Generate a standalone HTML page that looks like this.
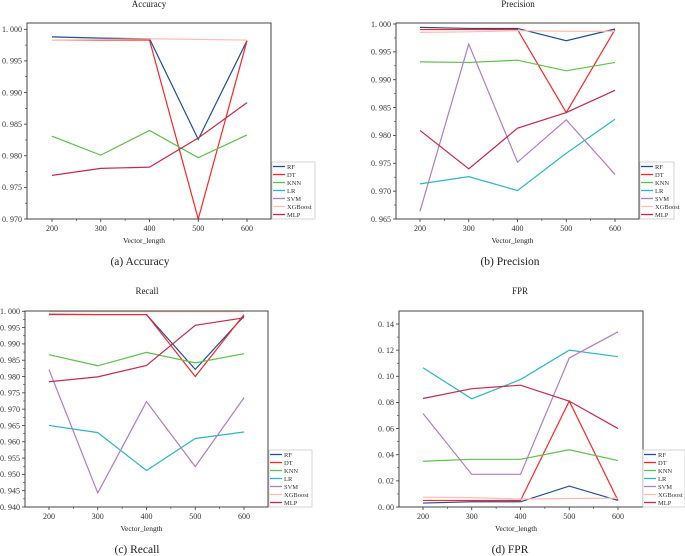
<!DOCTYPE html>
<html><head><meta charset="utf-8">
<style>
html,body{margin:0;padding:0;background:#fff;}
svg{display:block;font-family:"Liberation Serif",serif;}
</style></head>
<body>
<svg id="chart" width="685" height="556" viewBox="0 0 685 556" xmlns="http://www.w3.org/2000/svg"></svg>
<script>
const categories = [200, 300, 400, 500, 600];
const seriesNames = ["RF", "DT", "KNN", "LR", "SVM", "XGBoost", "MLP"];
const seriesColors = ["#1f4e9c", "#ff2424", "#5cc24a", "#2ab6c8", "#b07cc6", "#ffbcae", "#c8284a"];

const accRF = [0.9988, 0.9986, 0.9985, 0.9826, 0.9982];
const accDT = [0.9983, 0.9983, 0.9983, 0.9700, 0.9982];
const accKNN = [0.9831, 0.9801, 0.9840, 0.9797, 0.9833];
const accLR = [0.962, 0.961, 0.958, 0.963, 0.964];
const accSVM = [0.955, 0.952, 0.957, 0.950, 0.958];
const accXGB = [0.9983, 0.9984, 0.9985, 0.9984, 0.9983];
const accMLP = [0.9769, 0.9780, 0.9782, 0.9828, 0.9884];
const accTicks = [0.970, 0.975, 0.980, 0.985, 0.990, 0.995, 1.000];

const preRF = [0.9994, 0.9992, 0.9992, 0.9970, 0.9991];
const preDT = [0.9990, 0.9990, 0.9990, 0.9841, 0.9990];
const preKNN = [0.9932, 0.9931, 0.9935, 0.9916, 0.9931];
const preLR = [0.9713, 0.9726, 0.9701, 0.9768, 0.9829];
const preSVM = [0.9664, 0.9964, 0.9752, 0.9828, 0.9730];
const preXGB = [0.9985, 0.9986, 0.9988, 0.9987, 0.9987];
const preMLP = [0.9809, 0.9740, 0.9813, 0.9841, 0.9881];
const preTicks = [0.965, 0.970, 0.975, 0.980, 0.985, 0.990, 0.995, 1.000];

const recRF = [0.9991, 0.9990, 0.9990, 0.9822, 0.9985];
const recDT = [0.9990, 0.9990, 0.9990, 0.9800, 0.9990];
const recKNN = [0.9867, 0.9833, 0.9874, 0.9842, 0.9870];
const recLR = [0.9650, 0.9628, 0.9512, 0.9610, 0.9630];
const recSVM = [0.9821, 0.9443, 0.9723, 0.9524, 0.9735];
const recXGB = [0.9999, 0.9999, 0.9999, 0.9999, 0.9999];
const recMLP = [0.9784, 0.9799, 0.9834, 0.9957, 0.9980];
const recTicks = [0.940, 0.945, 0.950, 0.955, 0.960, 0.965, 0.970, 0.975, 0.980, 0.985, 0.990, 0.995, 1.000];

const fprRF = [0.003, 0.004, 0.004, 0.016, 0.005];
const fprDT = [0.005, 0.005, 0.005, 0.081, 0.005];
const fprKNN = [0.035, 0.0365, 0.0365, 0.0438, 0.0355];
const fprLR = [0.1065, 0.0828, 0.0975, 0.1200, 0.1150];
const fprSVM = [0.0715, 0.0250, 0.0250, 0.1140, 0.1340];
const fprXGB = [0.0075, 0.0072, 0.0060, 0.0065, 0.0068];
const fprMLP = [0.0830, 0.0905, 0.0932, 0.0810, 0.0600];
const fprTicks = [0.00, 0.02, 0.04, 0.06, 0.08, 0.10, 0.12, 0.14];

const NS = "http://www.w3.org/2000/svg";
const svg = document.getElementById("chart");
function mk(tag, attrs, parent) {
  const e = document.createElementNS(NS, tag);
  for (const k in attrs) e.setAttribute(k, attrs[k]);
  (parent || svg).appendChild(e);
  return e;
}

function panel(cfg) {
  const g = mk("g", {});
  
  
  const L = cfg.box[0], R = cfg.box[1], T = cfg.box[2], B = cfg.box[3];
  const xs = v => cfg.x0 + (v - 200) * (cfg.x1 - cfg.x0) / 400;
  const ys = v => cfg.yBotPx + (v - cfg.yMin) * (cfg.yTopPx - cfg.yBotPx) / (cfg.yMax - cfg.yMin);
  const cid = "clip-" + cfg.id;
  const cp = mk("clipPath", {id: cid}, g);
  mk("rect", {x: L, y: T, width: R - L, height: B - T}, cp);

  // ticks
  const ticks = cfg.ticks;
  for (let i = 0; i < ticks.length; i++) {
    const y = ys(ticks[i]);
    const tk = mk("line", {x1: L - 3, x2: L, y1: y, y2: y, stroke: "#333", "stroke-width": 0.8}, g);
    
    
    const t = mk("text", {x: L - 5, y: y + 2.8, "text-anchor": "end", "font-size": 8, fill: "#333"}, g);
    
    
    t.textContent = ticks[i].toFixed(cfg.dec).replace(".", ". ");
    if (i < ticks.length - 1) {
      const ym = ys((ticks[i] + ticks[i + 1]) / 2);
      mk("line", {x1: L - 2, x2: L, y1: ym, y2: ym, stroke: "#333", "stroke-width": 0.6}, g);
    }
  }
  categories.forEach((c, i) => {
    const x = xs(c);
    mk("line", {x1: x, x2: x, y1: B, y2: B + 3, stroke: "#333", "stroke-width": 0.8}, g);
    const t = mk("text", {x: x, y: B + 12, "text-anchor": "middle", "font-size": 8, fill: "#333"}, g);
    
    
    t.textContent = c;
    if (i < categories.length - 1) {
      const xm = xs(c + 50);
      mk("line", {x1: xm, x2: xm, y1: B, y2: B + 2, stroke: "#333", "stroke-width": 0.6}, g);
    }
  });

  const lg = mk("g", {"clip-path": "url(#" + cid + ")"}, g);
  cfg.series.forEach((vals, si) => {
    const pts = categories.map((c, i) => xs(c).toFixed(2) + "," + ys(vals[i]).toFixed(2)).join(" ");
    const pl = mk("polyline", {points: pts, fill: "none", stroke: seriesColors[si], "stroke-width": 1.2}, lg);
    
    
  });

  const frame = mk("rect", {x: L, y: T, width: R - L, height: B - T, fill: "none", stroke: "#444", "stroke-width": 1}, g);
  
  

  const tt = mk("text", {x: cfg.titleX, y: cfg.titleY, "text-anchor": "middle", "font-size": 9, fill: "#222"}, g);
  
  
  tt.textContent = cfg.title;
  const xl = mk("text", {x: (L + R) / 2 - 5, y: B + 24, "text-anchor": "middle", "font-size": 7.5, fill: "#222"}, g);
  
  
  xl.textContent = "Vector_length";
  const cap = mk("text", {x: cfg.capX, y: B + 46, "text-anchor": "middle", "font-size": 11.5, fill: "#222"}, g);
  
  
  cap.textContent = cfg.caption;

  // legend
  const lx = cfg.leg[0], lw = cfg.leg[1];
  const lgd = mk("g", {}, g);
  
  
  const lh = 57, ly = B - lh;
  mk("rect", {x: lx, y: ly, width: lw, height: lh, fill: "#fff", stroke: "#ccc", "stroke-width": 0.8}, lgd);
  seriesNames.forEach((n, i) => {
    const yy = ly + 4.5 + i * 8;
    const ent = mk("g", {}, lgd);
    
    
    mk("line", {x1: lx + 1, x2: lx + 13, y1: yy, y2: yy, stroke: seriesColors[i], "stroke-width": 1.3}, ent);
    const t = mk("text", {x: lx + 15, y: yy + 2.3, "font-size": 6.5, fill: "#333"}, ent);
    t.textContent = n;
  });
}

panel({id: "accuracy", box: [27, 271, 23, 219], x0: 52, x1: 247, yMin: 0.970, yMax: 1.000, yBotPx: 219, yTopPx: 29.3,
  ticks: accTicks, dec: 3, series: [accRF, accDT, accKNN, accLR, accSVM, accXGB, accMLP],
  title: "Accuracy", titleX: 149, titleY: 7, caption: "(a)  Accuracy", capX: 140, leg: [272, 43]});
panel({id: "precision", box: [396, 639, 23, 219], x0: 420, x1: 615, yMin: 0.965, yMax: 1.000, yBotPx: 219, yTopPx: 24,
  ticks: preTicks, dec: 3, series: [preRF, preDT, preKNN, preLR, preSVM, preXGB, preMLP],
  title: "Precision", titleX: 518, titleY: 7, caption: "(b)  Precision", capX: 510, leg: [640, 34]});
panel({id: "recall", box: [25, 268, 311, 507], x0: 49, x1: 244, yMin: 0.940, yMax: 1.000, yBotPx: 507, yTopPx: 311.3,
  ticks: recTicks, dec: 3, series: [recRF, recDT, recKNN, recLR, recSVM, recXGB, recMLP],
  title: "Recall", titleX: 147, titleY: 294, caption: "(c)  Recall", capX: 137, leg: [269, 43]});
panel({id: "fpr", box: [399, 643, 311, 507], x0: 423, x1: 618, yMin: 0, yMax: 0.14, yBotPx: 507, yTopPx: 324,
  ticks: fprTicks, dec: 2, series: [fprRF, fprDT, fprKNN, fprLR, fprSVM, fprXGB, fprMLP],
  title: "FPR", titleX: 520, titleY: 294, caption: "(d)  FPR", capX: 510, leg: [643, 42]});
</script>
</body></html>
